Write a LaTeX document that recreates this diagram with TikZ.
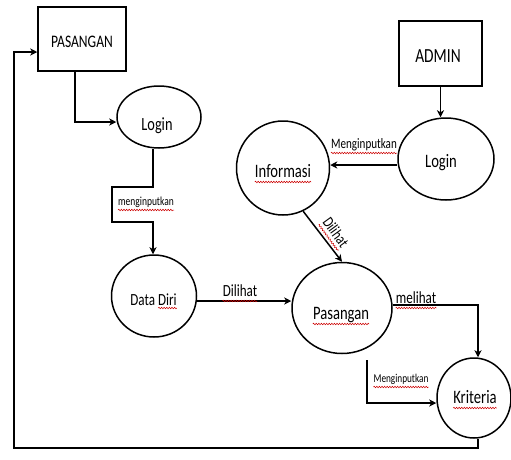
\documentclass[tikz,border=0pt]{standalone}
\usepackage{fontspec}
\setmainfont[FakeStretch=0.77]{Carlito}
\usetikzlibrary{shapes.geometric,arrows.meta,decorations.pathmorphing,calc}
\newcommand{\fsz}[1]{\fontsize{#1}{#1}\selectfont}
\begin{document}
\begin{tikzpicture}[x=1pt,y=-1pt,
  arr/.style={line width=1.5pt,-{Stealth[length=7pt,width=7pt,inset=2pt]}},
  ent/.style={draw,line width=1.5pt,rectangle,inner sep=0pt},
  proc/.style={draw,line width=1.5pt,ellipse,inner sep=0pt},
  txt/.style={inner sep=0pt,anchor=base},
  wav/.style={red!80!black,line width=0.5pt,decorate,decoration={snake,amplitude=0.8pt,segment length=2.6pt}}]
\useasboundingbox (0,0) rectangle (511,459);
% entities
\node[ent,minimum width=88pt,minimum height=64pt] (pas) at (82,39) {};
\node[ent,minimum width=83pt,minimum height=65pt] (admin) at (440.5,53.5) {};
% processes
\node[proc,minimum width=84pt,minimum height=62pt] (login1) at (159,117) {};
\node[proc,minimum width=96pt,minimum height=82pt] (login2) at (446,159) {};
\node[proc,minimum width=93pt,minimum height=94pt] (info) at (283,168) {};
\node[proc,minimum width=85pt,minimum height=82pt] (dd) at (154,296) {};
\node[proc,minimum width=100pt,minimum height=91pt] (psg) at (342,308) {};
\node[proc,minimum width=74pt,minimum height=80pt] (krit) at (474,398) {};
% texts
\node[txt,font=\fsz{17.6}] (tPas) at (82,47) {PASANGAN};
\node[txt,font=\fsz{20}] (tAdm) at (438,62) {ADMIN};
\node[txt,font=\fsz{18.6}] (tLog1) at (157,130) {Login};
\node[txt,font=\fsz{19}] (tLog2) at (441,167) {Login};
\node[txt,font=\fsz{19}] (tInfo) at (283,177) {Informasi};
\node[txt,font=\fsz{17}] (tDD) at (153.5,305) {Data Diri};
\node[txt,font=\fsz{19}] (tPsg) at (341,319) {Pasangan};
\node[txt,font=\fsz{19}] (tKrit) at (475,403) {Kriteria};
% connectors
\coordinate (f1) at (478,448);
\coordinate (f2) at (14,448);
\coordinate (f3) at (14,52);
\draw[arr] (f1 |- krit.south) -- (f1) -- (f2) -- (f3) -- (f3 -| pas.west);
\coordinate (g1) at (75,122);
\draw[arr] (g1 |- pas.south) -- (g1) -- (g1 -| login1.west);
\coordinate (b1) at (153,187);
\coordinate (b2) at (112,187);
\coordinate (b3) at (112,222);
\coordinate (b4) at (153,222);
\draw[arr] (b1 |- login1.south) -- (b1) -- (b2) -- (b3) -- (b4) -- (b4 |- dd.north);
\coordinate (h1) at (200,301);
\draw[arr] (dd.east |- h1) -- (psg.west |- h1);
\draw[arr] (admin.south) -- (admin.south |- login2.north);
\coordinate (i1) at (400,165);
\draw[arr] (login2.west |- i1) -- (info.east |- i1);
\draw[arr] (info.295) -- (psg.north);
\coordinate (k1) at (478,305);
\draw[arr] (psg.east |- k1) -- (k1) -- (k1 |- krit.north);
\coordinate (m1) at (367,360);
\coordinate (m2) at (367,403);
\draw[arr] (m1) -- (m2) -- (m2 -| krit.west);
% connector labels
\node[txt,font=\fsz{12.3}] (lMen1) at (146,205) {menginputkan};
\node[txt,font=\fsz{14.4}] (lMen2) at (364,148) {Menginputkan};
\node[txt,font=\fsz{17}] (lDil1) at (240,296) {Dilihat};
\node[txt,font=\fsz{17}] (lMel) at (416,303) {melihat};
\node[txt,font=\fsz{12}] (lMen3) at (401,382) {Menginputkan};
\node[inner sep=0pt,font=\fsz{16},rotate=-54] (lDil2) at (336,232) {Dilihat};
% spell-check waves
\foreach \n in {tInfo,tPsg,tKrit,lMen1,lMen2,lDil1,lMel,lMen3}{
  \draw[wav] ([yshift=-5pt]\n.base west) -- ([yshift=-5pt]\n.base east);
}
\draw[wav] ([yshift=-3pt]$(tDD.base west)!0.6!(tDD.base east)$) -- ([yshift=-3pt]tDD.base east);
\draw[wav] ($(lDil2.base west)!4pt!-90:(lDil2.base east)$) -- ($(lDil2.base east)!4pt!90:(lDil2.base west)$);
\end{tikzpicture}
\end{document}
